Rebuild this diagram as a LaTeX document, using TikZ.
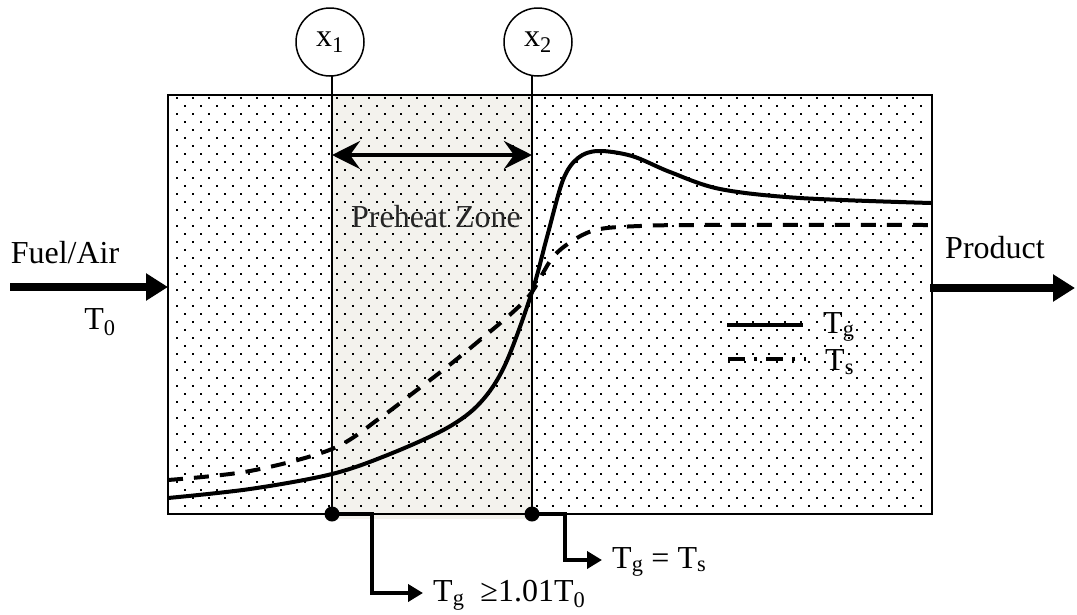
\documentclass[tikz,border=0pt]{standalone}
\usepackage{fontspec}
\setmainfont{Liberation Serif}
\usetikzlibrary{arrows.meta}
\definecolor{zonefill}{HTML}{F3F2ED}
\tikzset{
  lbl/.style={font=\fontsize{32}{36}\selectfont, inner sep=0pt},
  markc/.style={draw, circle, line width=1.5pt, minimum size=68pt, inner sep=0pt, font=\fontsize{32}{36}\selectfont},
  vline/.style={line width=1.6pt},
  bigarrow/.style={line width=8pt, -{Triangle[length=22pt,width=26pt]}},
  bendarrow/.style={line width=4pt, -{Triangle[length=15pt,width=17pt]}, shorten >=10pt},
  gascurve/.style={line width=4pt},
  solidcurve/.style={line width=4pt, dash pattern=on 15pt off 11pt},
  dotc/.style={circle, fill=black, minimum size=15pt, inner sep=0pt},
}
\begin{document}
\begin{tikzpicture}[x=1pt,y=-1pt]
\useasboundingbox (0,0) rectangle (1077,614);
% preheat zone fill
\fill[zonefill] (332,95) rectangle (532,519);
% dots
\foreach \r in {0,...,51}{
  \pgfmathsetmacro\yy{97+8*\r}
  \pgfmathsetmacro\xo{mod(\r,2)*8}
  \foreach \c in {0,...,46}{
    \fill (176+\xo+16*\c,\yy) rectangle +(2.2,2.2);
  }
}
% box
\draw[line width=2.8pt] (168,95) rectangle (932,514);
% marker circles
\node[markc] (c1) at (330,42) {x\textsubscript{1}};
\node[markc] (c2) at (538,42) {x\textsubscript{2}};
\coordinate (b1) at (332,514);
\coordinate (b2) at (532,514);
\draw[vline] (332,76) -- (b1);
\draw[vline] (532,76) -- (b2);
% preheat arrow
\coordinate (a1) at (332,155);
\coordinate (a2) at (532,155);
\draw[line width=4.5pt, {Stealth[length=28pt,width=28pt,inset=10pt]}-{Stealth[length=28pt,width=28pt,inset=10pt]}] (a1) -- (a2);
\node[lbl, text=black!85] (pz) at (436,217) {Preheat Zone};
% curves
\draw[gascurve] plot[smooth, tension=0.55] coordinates {(168,498) (250,489) (332,474) (390,454) (447,428) (480,403) (505,365) (532,292) (547,237) (563,180) (578,158) (598,151) (632,156) (670,172) (720,189) (800,198) (931,203)};
\draw[solidcurve] plot[smooth, tension=0.55] coordinates {(168,480) (250,471) (332,449) (380,418) (413,393) (447,367) (480,340) (513,312) (532,292) (553,257) (577,238) (600,229) (640,226) (700,225) (931,225)};
% legend
\coordinate (lg1) at (727,325);
\coordinate (lg2) at (803,325);
\coordinate (ls1) at (728,359);
\coordinate (ls2) at (806,359);
\draw[line width=3.8pt] (lg1) -- (lg2);
\draw[line width=3.8pt, dash pattern=on 17pt off 9pt on 3pt off 9pt] (ls1) -- (ls2);
\node[lbl, anchor=west] (tg) at (823,327) {T\textsubscript{g}};
\node[lbl, anchor=west] (ts) at (825,362) {T\textsubscript{s}};
% inflow / outflow
\node[lbl] (fuel) at (65,253) {Fuel/Air};
\node[lbl] (t0) at (100,322) {T\textsubscript{0}};
\coordinate (in0) at (10,287);
\coordinate (in1) at (168,287);
\draw[bigarrow] (in0) -- (in1);
\node[lbl] (prod) at (995,248) {Product};
\coordinate (out0) at (930,288);
\coordinate (out1) at (1075,288);
\draw[bigarrow] (out0) -- (out1);
% bottom markers
\node[dotc] (d1) at (b1) {};
\node[dotc] (d2) at (b2) {};
\node[lbl, anchor=west] (cond1) at (433,595) {T\textsubscript{g}\ \ ≥1.01T\textsubscript{0}};
\node[lbl, anchor=west] (cond2) at (612,562) {T\textsubscript{g} = T\textsubscript{s}};
\draw[bendarrow] (d1.center) -- (372,514) -- (372,593) -- (cond1.west |- 0,593);
\draw[bendarrow] (d2.center) -- (565,514) -- (565,560) -- (cond2.west |- 0,560);
\end{tikzpicture}
\end{document}
